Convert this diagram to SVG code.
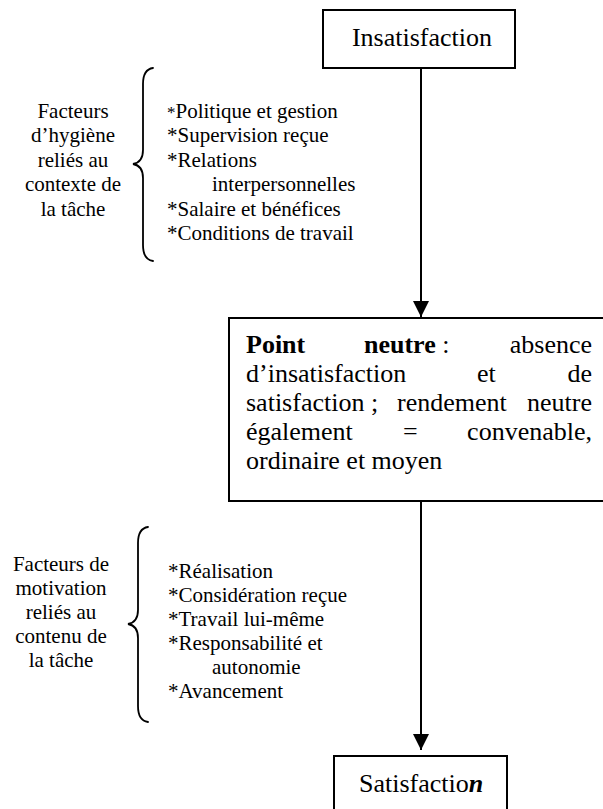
<svg xmlns="http://www.w3.org/2000/svg" width="603" height="809" viewBox="0 0 603 809">
  <defs>
    <!-- solid triangular head, tip at the end of the line -->
    <marker id="arrow" viewBox="0 0 16 16" refX="16" refY="8" markerWidth="16" markerHeight="16" markerUnits="userSpaceOnUse" orient="auto">
      <path d="M0,0 L16,8 L0,16 Z" fill="#000"/>
    </marker>
  </defs>
  <rect width="603" height="809" fill="#fff"/>

  <!-- connectors -->
  <g id="connectors" fill="none" stroke="#000" stroke-width="2">
    <line x1="421" y1="68" x2="421" y2="317" marker-end="url(#arrow)"/>
    <line x1="421" y1="501" x2="421" y2="750" marker-end="url(#arrow)"/>
  </g>

  <!-- top state -->
  <g id="insatisfaction">
    <rect x="323" y="10" width="192" height="58" fill="#fff" stroke="#000" stroke-width="2"/>
    <text style="font-family:'Liberation Serif',serif;font-size:26px" text-anchor="middle" x="422" y="46">Insatisfaction</text>
  </g>

  <!-- hygiene factors -->
  <g id="hygiene">
    <text style="font-family:'Liberation Serif',serif;font-size:21px" text-anchor="middle" x="73" y="118">Facteurs</text>
    <text style="font-family:'Liberation Serif',serif;font-size:21px" text-anchor="middle" x="73" y="142.4">d’hygiène</text>
    <text style="font-family:'Liberation Serif',serif;font-size:21px" text-anchor="middle" x="73" y="166.8">reliés au</text>
    <text style="font-family:'Liberation Serif',serif;font-size:21px" text-anchor="middle" x="73" y="191.2">contexte de</text>
    <text style="font-family:'Liberation Serif',serif;font-size:21px" text-anchor="middle" x="73" y="215.6">la tâche</text>
    <path d="M153,68 C146,69 143,74 143,84 L143,150 C143,159 139,163 133,164 C139,165 143,169 143,178 L143,245 C143,255 146,260 153,261" fill="none" stroke="#000" stroke-width="1.8" stroke-linecap="round"/>
    <text style="font-family:'Liberation Serif',serif;font-size:21px" x="167" y="118"><tspan style="font-size:17px">*</tspan>Politique et gestion</text>
    <text style="font-family:'Liberation Serif',serif;font-size:21px" x="167" y="142.4">*Supervision reçue</text>
    <text style="font-family:'Liberation Serif',serif;font-size:21px" x="167" y="166.8">*Relations</text>
    <text style="font-family:'Liberation Serif',serif;font-size:21px" x="212" y="191.2">interpersonnelles</text>
    <text style="font-family:'Liberation Serif',serif;font-size:21px" x="167" y="215.6">*Salaire et bénéfices</text>
    <text style="font-family:'Liberation Serif',serif;font-size:21px" x="167" y="240">*Conditions de travail</text>
  </g>

  <!-- neutral point: justified paragraph -->
  <g id="point-neutre">
    <rect x="229" y="318" width="400" height="183" fill="#fff" stroke="#000" stroke-width="2"/>
    <text style="font-family:'Liberation Serif',serif;font-size:26px" x="246" y="353"><tspan style="font-weight:bold">Point</tspan><tspan style="font-weight:bold" x="364">neutre</tspan> :</text>
    <text style="font-family:'Liberation Serif',serif;font-size:26px" text-anchor="end" x="592" y="353">absence</text>
    <text style="font-family:'Liberation Serif',serif;font-size:26px" x="246" y="382">d’insatisfaction</text>
    <text style="font-family:'Liberation Serif',serif;font-size:26px" x="477" y="382">et</text>
    <text style="font-family:'Liberation Serif',serif;font-size:26px" text-anchor="end" x="592" y="382">de</text>
    <text style="font-family:'Liberation Serif',serif;font-size:26px" x="246" y="411">satisfaction ;</text>
    <text style="font-family:'Liberation Serif',serif;font-size:26px" x="397" y="411">rendement</text>
    <text style="font-family:'Liberation Serif',serif;font-size:26px" text-anchor="end" x="592" y="411">neutre</text>
    <text style="font-family:'Liberation Serif',serif;font-size:26px" x="246" y="440">également</text>
    <text style="font-family:'Liberation Serif',serif;font-size:26px" x="403" y="440">=</text>
    <text style="font-family:'Liberation Serif',serif;font-size:26px" text-anchor="end" x="592" y="440">convenable,</text>
    <text style="font-family:'Liberation Serif',serif;font-size:26px" x="246" y="469">ordinaire et moyen</text>
  </g>

  <!-- motivation factors -->
  <g id="motivation">
    <text style="font-family:'Liberation Serif',serif;font-size:21px" text-anchor="middle" x="61" y="571">Facteurs de</text>
    <text style="font-family:'Liberation Serif',serif;font-size:21px" text-anchor="middle" x="61" y="595">motivation</text>
    <text style="font-family:'Liberation Serif',serif;font-size:21px" text-anchor="middle" x="61" y="619">reliés au</text>
    <text style="font-family:'Liberation Serif',serif;font-size:21px" text-anchor="middle" x="61" y="643">contenu de</text>
    <text style="font-family:'Liberation Serif',serif;font-size:21px" text-anchor="middle" x="61" y="667">la tâche</text>
    <path d="M148,527 C141,528 138,533 138,543 L138,610 C138,619 134,623 128,624 C134,625 138,629 138,638 L138,706 C138,716 141,721 148,722" fill="none" stroke="#000" stroke-width="1.8" stroke-linecap="round"/>
    <text style="font-family:'Liberation Serif',serif;font-size:21px" x="168" y="578">*Réalisation</text>
    <text style="font-family:'Liberation Serif',serif;font-size:21px" x="168" y="602">*Considération reçue</text>
    <text style="font-family:'Liberation Serif',serif;font-size:21px" x="168" y="626">*Travail lui-même</text>
    <text style="font-family:'Liberation Serif',serif;font-size:21px" x="168" y="650">*Responsabilité et</text>
    <text style="font-family:'Liberation Serif',serif;font-size:21px" x="212" y="674">autonomie</text>
    <text style="font-family:'Liberation Serif',serif;font-size:21px" x="168" y="698">*Avancement</text>
  </g>

  <!-- bottom state -->
  <g id="satisfaction">
    <rect x="334" y="756" width="173" height="70" fill="#fff" stroke="#000" stroke-width="2"/>
    <text style="font-family:'Liberation Serif',serif;font-size:26px" x="359" y="792">Satisfactio<tspan style="font-weight:bold;font-style:italic">n</tspan></text>
  </g>
</svg>
